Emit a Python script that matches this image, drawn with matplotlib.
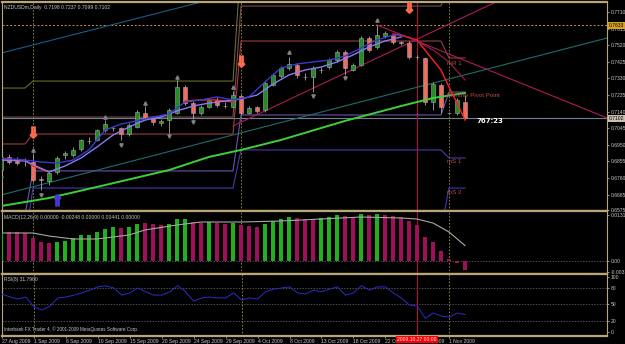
import numpy as np
import matplotlib.pyplot as plt
from matplotlib.transforms import blended_transform_factory

plt.rcParams['font.family'] = ['Liberation Sans', 'DejaVu Sans']

# ---- daily bars NZDUSDm (MT4 counts Sunday bars) ----
opens = [0.6806, 0.6881, 0.6869, 0.6863, 0.6852, 0.6755, 0.6743, 0.6795, 0.6892, 0.6892,
         0.6926, 0.6972, 0.6978, 0.7035, 0.7046, 0.7046, 0.7012, 0.7052, 0.7132, 0.7104,
         0.7075, 0.7092, 0.7132, 0.7281, 0.7190, 0.7132, 0.7167, 0.7207, 0.7172, 0.7167,
         0.7230, 0.7132, 0.7167, 0.7149, 0.7292, 0.7344, 0.7390, 0.7407, 0.7338, 0.7338,
         0.7378, 0.7395, 0.7435, 0.7481, 0.7378, 0.7407, 0.7561, 0.7510, 0.7573, 0.7578,
         0.7538, 0.7533, 0.7453, 0.7447, 0.7195, 0.7292, 0.7132, 0.7132, 0.7198]
highs = [0.6905, 0.6895, 0.6880, 0.6875, 0.6900, 0.6770, 0.6800, 0.6885, 0.6915, 0.6935,
         0.6985, 0.6995, 0.7040, 0.7090, 0.7060, 0.7055, 0.7075, 0.7150, 0.7170, 0.7115,
         0.7100, 0.7160, 0.7320, 0.7290, 0.7200, 0.7180, 0.7215, 0.7225, 0.7195, 0.7260,
         0.7240, 0.7170, 0.7175, 0.7315, 0.7360, 0.7400, 0.7455, 0.7420, 0.7360, 0.7400,
         0.7395, 0.7445, 0.7490, 0.7495, 0.7420, 0.7570, 0.7570, 0.7635, 0.7600, 0.7590,
         0.7545, 0.7545, 0.7465, 0.7455, 0.7310, 0.7305, 0.7140, 0.7220, 0.7237]
lows = [0.6790, 0.6840, 0.6835, 0.6830, 0.6740, 0.6690, 0.6720, 0.6785, 0.6870, 0.6880,
        0.6915, 0.6955, 0.6970, 0.7025, 0.7030, 0.6975, 0.7000, 0.7045, 0.7095, 0.7065,
        0.7060, 0.7020, 0.7125, 0.7180, 0.7100, 0.7120, 0.7160, 0.7165, 0.7160, 0.7160,
        0.7120, 0.7125, 0.7135, 0.7140, 0.7285, 0.7335, 0.7380, 0.7335, 0.7320, 0.7250,
        0.7360, 0.7385, 0.7425, 0.7350, 0.7370, 0.7400, 0.7480, 0.7500, 0.7560, 0.7525,
        0.7520, 0.7440, 0.7440, 0.7180, 0.7150, 0.7130, 0.7125, 0.7120, 0.7099]
closes = [0.6881, 0.6852, 0.6846, 0.6862, 0.6749, 0.6749, 0.6789, 0.6875, 0.6903, 0.6921,
          0.6978, 0.6973, 0.7035, 0.7069, 0.7047, 0.7012, 0.7064, 0.7138, 0.7104, 0.7081,
          0.7087, 0.7149, 0.7281, 0.7190, 0.7132, 0.7167, 0.7207, 0.7178, 0.7173, 0.7235,
          0.7132, 0.7161, 0.7144, 0.7304, 0.7350, 0.7390, 0.7413, 0.7350, 0.7339, 0.7390,
          0.7379, 0.7435, 0.7481, 0.7390, 0.7407, 0.7561, 0.7493, 0.7578, 0.7590, 0.7538,
          0.7533, 0.7453, 0.7452, 0.7195, 0.7298, 0.7167, 0.7133, 0.7207, 0.7102]

date_idx = [0, 4, 8, 12, 16, 20, 24, 28, 32, 36, 40, 44, 48, 52, 56]
date_lbl = ['27 Aug 2009', '1 Sep 2009', '6 Sep 2009', '10 Sep 2009', '15 Sep 2009',
            '20 Sep 2009', '24 Sep 2009', '29 Sep 2009', '4 Oct 2009', '8 Oct 2009',
            '13 Oct 2009', '18 Oct 2009', '22 Oct 2009', '27 Oct 2009', '1 Nov 2009']
month_sep = [4, 30, 56]
marked_bar = 52

price_ticks = [0.7710, 0.7615, 0.7520, 0.7425, 0.7330, 0.7235, 0.7140, 0.7045,
               0.6950, 0.6855, 0.6760, 0.6665, 0.6575]
bid = 0.7102
alert = 0.7633

# monthly pivot levels (Aug, Sep, Oct, Nov)
month_first = [0, 4, 30, 56]
month_last = [3, 29, 55, 58]
piv_r3 = [0.7275, 0.7315, 0.8007, 0.8007]
piv_r2 = [0.7109, 0.7109, 0.7744, 0.7893]
piv_r1 = [0.6955, 0.7012, 0.7544, 0.7447]
piv_p = [0.6549, 0.6801, 0.7121, 0.7252]
piv_s1 = [0.6400, 0.6703, 0.6921, 0.6875]
piv_s2 = [0.6300, 0.6400, 0.6463, 0.6703]

# moving averages
blue_idx = [0, 3, 5, 7, 9, 11, 13, 15, 17, 19, 21, 23, 25, 27, 29, 31, 33, 35, 37, 39,
            41, 43, 45, 47, 49, 50]
blue_val = [0.6875, 0.6863, 0.6852, 0.6846, 0.6863, 0.6921, 0.7035, 0.7069, 0.7087, 0.7109,
            0.7127, 0.7195, 0.7207, 0.7224, 0.7207, 0.7224, 0.7310, 0.7390, 0.7413, 0.7424,
            0.7435, 0.7458, 0.7504, 0.7550, 0.7578, 0.7578]
violet_idx = [0, 3, 6, 8, 10, 12, 14, 16, 18, 20, 22, 24, 26, 28, 30, 32, 34, 36, 38, 40,
              42, 44, 46, 48, 50]
violet_val = [0.6863, 0.6858, 0.6795, 0.6829, 0.6875, 0.6938, 0.7006, 0.7052, 0.7092, 0.7109,
              0.7144, 0.7172, 0.7189, 0.7201, 0.7212, 0.7235, 0.7298, 0.7350, 0.7378, 0.7395,
              0.7424, 0.7464, 0.7510, 0.7544, 0.7567]
red_idx = [0, 3, 4, 6, np.nan, 23, 25, 27, 29, np.nan, 49, 50, 52, 54, 55, 56, 57, 58]
red_val = [0.6863, 0.6863, 0.6829, 0.6795, np.nan, 0.7201, 0.7207, 0.7207, 0.7195, np.nan,
           0.7584, 0.7578, 0.7550, 0.7435, 0.7378, 0.7281, 0.7190, 0.7092]
maroon_idx = [50, 51, 54, 56, 58]
maroon_val = [0.7573, 0.7567, 0.7493, 0.7424, 0.7321]
green_idx = [0, 6, 13, 21, 26, 30, 35, 43, 50, 54, 58]
green_val = [0.6600, 0.6646, 0.6720, 0.6806, 0.6881, 0.6921, 0.6978, 0.7087, 0.7172, 0.7218, 0.7247]

# trend lines (start/end)
teal_lo_idx = [0, 75.75]
teal_lo_val = [0.6663, 0.7561]
teal_hi_idx = [0, 75.75]
teal_hi_val = [0.7475, 0.8359]
trend_up_idx = [29, 62.4]
trend_up_val = [0.7058, 0.7779]
trend_dn_idx = [47, 75.75]
trend_dn_val = [0.7636, 0.7104]

# fractals and signal arrows
frac_up_idx = [4, 13, 18, 22, 29, 36, 47]
frac_up_val = [0.6921, 0.7109, 0.7189, 0.7338, 0.7281, 0.7481, 0.7664]
frac_dn_idx = [0, 5, 15, 21, 24, 39, 43]
frac_dn_val = [0.6760, 0.6663, 0.6949, 0.7001, 0.7081, 0.7230, 0.7332]
sell_idx = [4, 30, 51]
sell_val = [0.7024, 0.7430, 0.7739]
buy_idx = [7]
buy_val = [0.6635]

# MACD histogram (1 = rising/green, 0 = falling/magenta) and signal
macd = [0.00829, 0.00829, 0.00829, 0.00801, 0.00658, 0.00543, 0.00515, 0.00543, 0.00572, 0.00658,
        0.00744, 0.00744, 0.00829, 0.00915, 0.00972, 0.00944, 0.00972, 0.01058, 0.01087, 0.01058,
        0.01030, 0.01058, 0.01201, 0.01201, 0.01115, 0.01087, 0.01115, 0.01087, 0.01058, 0.01087,
        0.01030, 0.01001, 0.00972, 0.01058, 0.01144, 0.01201, 0.01258, 0.01230, 0.01201, 0.01201,
        0.01230, 0.01258, 0.01316, 0.01287, 0.01258, 0.01344, 0.01316, 0.01344, 0.01316, 0.01287,
        0.01258, 0.01144, 0.01030, 0.00686, 0.00543, 0.00286, 0.00057, -0.00057, -0.00248]
macd_up = [1, 0, 0, 0, 0, 0, 0, 1, 1, 1, 1, 1, 1, 1, 1, 0, 1, 1, 0, 0,
           0, 1, 1, 1, 0, 0, 1, 0, 0, 1, 0, 0, 0, 1, 1, 1, 1, 0, 0, 0,
           1, 1, 1, 0, 0, 1, 0, 1, 0, 0, 0, 0, 0, 0, 0, 0, 0, 0, 0]
sig_idx = [0, 4, 6, 9, 12, 16, 18, 22, 25, 30, 35, 40, 45, 50, 52, 54, 56, 58]
sig_val = [0.00801, 0.00801, 0.00715, 0.00629, 0.00629, 0.00744, 0.00887, 0.01030, 0.01115,
           0.01115, 0.01144, 0.01201, 0.01258, 0.01230, 0.01201, 0.01087, 0.00829, 0.00441]

rsi = [69, 63.6, 60, 63.6, 45.5, 40, 47, 62, 63.6, 67, 71, 76, 82, 84, 80, 67, 71, 80, 73, 67,
       67, 73, 84, 73, 56, 62, 63.6, 62, 62, 71, 58, 62, 60, 73, 78, 80, 82, 71, 69, 76,
       73, 78, 82, 67, 71, 84, 76, 82, 82, 71, 62, 49, 47, 25, 34.5, 29, 27, 34.5, 31.8]

# ---- colours ----
FRAME = '#b9a57a'
TXT = '#c8c8c8'
BULL = '#1f8f1f'
BEAR = '#f86a58'
WICK = '#a8a8a8'
FS = 3.6

W, H = 625.0, 344.0
X_LEFT, X_RIGHT = 0.125, 75.75

fig = plt.figure(figsize=(6.25, 3.44), dpi=100, facecolor='black')


def panel(top, bottom, ylim):
    ax = fig.add_axes([2 / W, 1 - bottom / H, 605 / W, (bottom - top) / H])
    ax.set_facecolor('black')
    for s in ax.spines.values():
        s.set_color(FRAME)
        s.set_linewidth(0.8)
    ax.spines['top'].set_linewidth(1.6)
    ax.spines['bottom'].set_linewidth(1.6)
    ax.set_xlim(X_LEFT, X_RIGHT)
    ax.set_ylim(*ylim)
    ax.yaxis.tick_right()
    ax.tick_params(axis='y', colors=FRAME, labelcolor=TXT, labelsize=FS,
                   length=1.5, width=0.6, pad=1)
    ax.tick_params(axis='x', bottom=False, labelbottom=False)
    return ax


ax = panel(2, 211, (0.65717, 0.77672))
ax_macd = panel(211, 274, (-0.00372, 0.0143))
ax_rsi = panel(274, 336, (-7.27, 105.45))

# ---- main chart ----
ax.set_yticks(price_ticks)
ax.set_yticklabels(['%.4f' % p for p in price_ticks])


def month_steps(levels):
    xs, ys = [], []
    for a, b, v in zip(month_first, month_last, levels):
        xs += [a - (1 if a == 0 else 0), b]
        ys += [v, v]
    return xs, ys


for lv, col in [(piv_r3, '#6b6b23'), (piv_r2, '#7a4a52'), (piv_r1, '#9a3e3e'),
                (piv_p, '#7050b0'), (piv_s1, '#4a3aa8'), (piv_s2, '#3a3ab8')]:
    xs, ys = month_steps(lv)
    ax.plot(xs, ys, color=col, lw=0.8, zorder=2)

ax.plot(teal_lo_idx, teal_lo_val, color='#1c6e6a', lw=0.8, zorder=2)
ax.plot(teal_hi_idx, teal_hi_val, color='#1d5a88', lw=0.8, zorder=2)
ax.plot(trend_up_idx, trend_up_val, color='#b0185a', lw=0.8, zorder=2)
ax.plot(trend_dn_idx, trend_dn_val, color='#b0185a', lw=0.8, zorder=2)

ax.axhline(alert, color='#c8963c', lw=0.7, ls=(0, (2, 2)), zorder=1)
ax.axhline(bid, color='#708090', lw=0.8, zorder=1)

# candles
o, h, l, c = map(np.array, (opens, highs, lows, closes))
idx = np.arange(len(o))
up = c >= o
ax.vlines(idx, l, h, color=WICK, lw=0.6, zorder=4)
lo = np.minimum(o, c)
ht = np.maximum(np.abs(c - o), 0.00005)
ax.bar(idx[up], ht[up], bottom=lo[up], width=0.62, color=BULL, edgecolor=WICK, lw=0.4, zorder=5)
ax.bar(idx[~up], ht[~up], bottom=lo[~up], width=0.62, color=BEAR, edgecolor=WICK, lw=0.4, zorder=5)

ax.plot(green_idx, green_val, color='#3cd03c', lw=1.4, zorder=6)
ax.plot(red_idx, red_val, color='#ff2020', lw=1.0, zorder=6)
ax.plot(maroon_idx, maroon_val, color='#a0204a', lw=0.8, zorder=6)
ax.plot(violet_idx, violet_val, color='#8a7cf0', lw=1.0, zorder=7)
ax.plot(blue_idx, blue_val, color='#3a3ad0', lw=1.0, zorder=7)

ax.plot(frac_up_idx, frac_up_val, ls='none', marker='^', ms=2.4, color='#808080', zorder=8)
ax.plot(frac_dn_idx, frac_dn_val, ls='none', marker='v', ms=2.4, color='#808080', zorder=8)
ax.plot(sell_idx, sell_val, ls='none', marker=r'$\Downarrow$', ms=8, color='#ff6a48', zorder=8)
ax.plot(buy_idx, buy_val, ls='none', marker=r'$\Uparrow$', ms=8, color='#4a3cd8', zorder=8)

for txt, p in [('mR 1', 0.7418), ('Monthly Pivot Point', 0.7230), ('mS 1', 0.6852), ('mS 2', 0.6680)]:
    ax.text(55.75, p, txt, color='#c04a3a', fontsize=4.4, va='center', ha='left', zorder=9)
ax.text(59.4, 0.7086, '767:23', color='white', fontsize=5.0, fontweight='bold',
        va='center', ha='left', family=['DejaVu Sans'], zorder=9)

tr = blended_transform_factory(ax.transAxes, ax.transData)
ax.text(1.003, alert, '%.4f' % alert, transform=tr, fontsize=FS, color='black', va='center',
        ha='left', bbox=dict(boxstyle='square,pad=0.15', fc='#d8a420', ec='none'), zorder=10, clip_on=False)
ax.text(1.003, bid, '%.4f' % bid, transform=tr, fontsize=FS, color='black', va='center',
        ha='left', bbox=dict(boxstyle='square,pad=0.15', fc='#c8c0b0', ec='none'), zorder=10, clip_on=False)

# ---- MACD ----
mup = np.array(macd_up) == 1
mv = np.array(macd)
ax_macd.bar(idx[mup], mv[mup], width=0.42, color='#1fb01f', zorder=3)
ax_macd.bar(idx[~mup], mv[~mup], width=0.42, color='#a0105a', zorder=3)
ax_macd.plot(sig_idx, sig_val, color='#a8a8a0', lw=0.8, zorder=4)
ax_macd.axhline(0, color='#707070', lw=0.5, ls=(0, (2, 2)), zorder=1)
ax_macd.set_yticks([0.01316, 0.0, -0.00318])
ax_macd.set_yticklabels(['0.01316', '0.00', '-0.00318'])

# ---- RSI ----
ax_rsi.plot(idx, rsi, color='#2c2cc8', lw=0.7, zorder=3)
for lvl in (80, 50, 20):
    ax_rsi.axhline(lvl, color='#707070', lw=0.5, ls=(0, (2, 2)), zorder=1)
ax_rsi.set_yticks([100, 80, 50, 20, 0])
ax_rsi.set_yticklabels(['100', '80', '50', '20', '0'])
ax_rsi.set_xticks(date_idx)
ax_rsi.set_xticklabels(date_lbl)
ax_rsi.tick_params(axis='x', bottom=True, labelbottom=True, colors=FRAME, labelcolor=TXT,
                   labelsize=FS, length=1.5, width=0.6, pad=0.8)
for t in ax_rsi.get_xticklabels():
    t.set_ha('left')

# separators and marked bar through all panels
for a in (ax, ax_macd, ax_rsi):
    for m in month_sep:
        a.axvline(m, color='#a08c5a', lw=0.6, ls=(0, (2, 2)), zorder=1)
    a.axvline(marked_bar, color='#b0103c', lw=0.8, zorder=1)

# header texts
fig.text(4 / W, 1 - 8 / H, 'NZDUSDm,Daily  0.7198 0.7237 0.7099 0.7102', color=TXT,
         fontsize=FS, va='center', ha='left')
fig.text(4 / W, 1 - 218 / H, 'MACD(12,26,9) 0.00000 -0.00248 0.00000 0.00441 0.00000',
         color=TXT, fontsize=FS, va='center', ha='left')
fig.text(4 / W, 1 - 279 / H, 'RSI(8) 31.7960', color=TXT, fontsize=FS, va='center', ha='left')
fig.text(4 / W, 1 - 329 / H, 'Interbank FX Trader 4, \u00a9 2001-2009 MetaQuotes Software Corp.',
         color=TXT, fontsize=3.3, va='center', ha='left')
fig.text(417 / W, 1 - 339.5 / H, '2009.10.27 00:00', color='white', fontsize=FS,
         va='center', ha='center', bbox=dict(boxstyle='square,pad=0.25', fc='#ff0000', ec='none'),
         zorder=10)

fig.savefig('out.png', dpi=100, facecolor='black')
